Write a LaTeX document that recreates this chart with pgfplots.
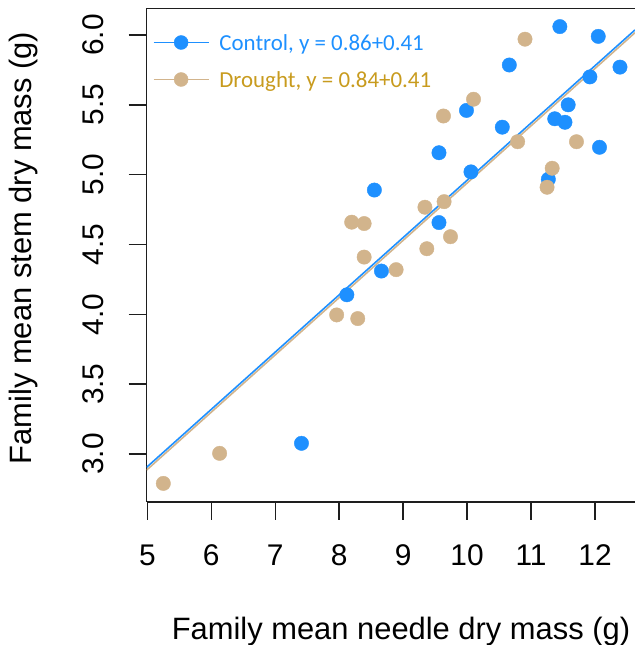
\documentclass[border=0pt]{standalone}
\usepackage{fontspec}
\setmainfont{Liberation Sans}
\newfontfamily\legfont{Carlito}
\usepackage{pgfplots}
\pgfplotsset{compat=1.18}
\definecolor{ctrl}{RGB}{30,144,255}
\definecolor{drt}{RGB}{210,180,140}
\definecolor{ctrltext}{RGB}{30,144,255}
\definecolor{drttext}{RGB}{200,155,30}
\definecolor{axcol}{RGB}{30,30,30}

\pgfplotstableread{
x y
11.45 6.06
12.05 5.99
10.66 5.785
12.39 5.77
11.92 5.70
11.58 5.50
9.99 5.46
11.37 5.40
11.53 5.375
10.55 5.34
12.07 5.196
9.56 5.157
10.06 5.02
11.27 4.967
8.55 4.89
9.56 4.657
8.66 4.31
8.12 4.14
7.41 3.077
}\control

\pgfplotstableread{
x y
10.905 5.97
10.10 5.54
9.63 5.42
10.79 5.236
11.71 5.236
11.33 5.046
11.25 4.91
9.34 4.767
9.64 4.807
8.195 4.66
8.39 4.65
9.74 4.556
9.37 4.47
8.39 4.41
8.89 4.32
7.96 3.996
8.29 3.97
6.13 3.005
5.25 2.79
}\drought

\begin{document}
\begin{tikzpicture}
\begin{axis}[
  at={(0,0)}, anchor=south west,
  scale only axis, width=488.3bp, height=493.4bp,
  xmin=4.99, xmax=12.625, ymin=2.659, ymax=6.191,
  axis x line*=bottom, axis y line*=left,
  axis line style={-, line width=1.6bp, axcol},
  xtick={5,6,7,8,9,10,11,12},
  ytick={3,3.5,4,4.5,5,5.5,6},
  yticklabel={\pgfmathprintnumber[fixed,fixed zerofill,precision=1]{\tick}},
  tick align=outside, major tick length=18bp,
  every tick/.style={line width=1.5bp, axcol},
  /pgf/number format/assume math mode=true,
  tick label style={font=\fontsize{30}{36}\selectfont, inner sep=0pt},
  xticklabel style={anchor=base, yshift=-46bp},
  yticklabel style={rotate=90, anchor=base, yshift=25.4bp},
  xlabel={Family mean needle dry mass (g)},
  ylabel={Family mean stem dry mass (g)},
  label style={font=\fontsize{31}{36}\selectfont, inner sep=0pt},
  xlabel style={at={(axis description cs:0.5208,-0.2783)}, anchor=base},
  ylabel style={at={(axis description cs:-0.2349,0.5142)}, anchor=base, rotate=0},
  legend cell align=left,
  legend style={draw=none, fill=none, at={(axis description cs:0.0,1.0)}, anchor=north west,
    xshift=6bp, yshift=-25bp, font=\legfont\fontsize{23}{27}\selectfont,
    row sep=15bp, inner sep=0pt,
    nodes={inner sep=0pt, text height=17bp, text depth=5bp},
    /tikz/every odd column/.append style={column sep=10bp}},
  legend image code/.code={
    \draw[line width=1.5bp] (0bp,2bp) -- (55bp,2bp);
    \fill (27.5bp,2bp) circle (7bp);
  },
]
\addplot[only marks, color=ctrl, mark=*, mark size=7.2bp, mark options={draw=none, fill=ctrl}] table[x=x,y=y]{\control};
\addlegendentry{\textcolor{ctrltext}{Control, y = 0.86+0.41}}
\addplot[only marks, color=drt, mark=*, mark size=7.2bp, mark options={draw=none, fill=drt}] table[x=x,y=y]{\drought};
\addlegendentry{\textcolor{drttext}{Drought, y = 0.84+0.41}}
\addplot[drt, line width=1.6bp, forget plot] coordinates {(4.99,2.8859) (12.625,6.01625)};
\addplot[ctrl, line width=1.6bp, forget plot] coordinates {(4.99,2.9059) (12.625,6.03625)};
\draw[line width=1.6bp, axcol] (rel axis cs:0,1) -- (rel axis cs:1,1);
\end{axis}
\pgfresetboundingbox
\useasboundingbox (-146.7bp,-143.3bp) rectangle (488.3bp,501.7bp);
\end{tikzpicture}
\end{document}
